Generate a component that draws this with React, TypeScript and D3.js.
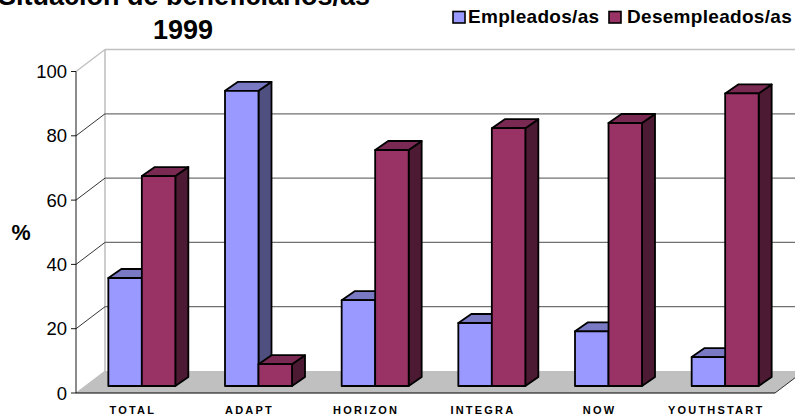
import React from "react";
import * as d3 from "d3";

const categories = ["TOTAL", "ADAPT", "HORIZON", "INTEGRA", "NOW", "YOUTHSTART"];
const empleados = [33.6, 91.8, 26.7, 19.6, 17, 9];
const desempleados = [65.3, 6.8, 73.4, 80.2, 81.8, 91];
const yTicks = [0, 20, 40, 60, 80, 100];
const seriesNames = ["Empleados/as", "Desempleados/as"];
const fronts = ["#9999ff", "#993366"];
const tops = ["#7a7ac4", "#7a2952"];
const sides = ["#4f4f80", "#4d1a33"];

const W = 795, H = 417;
const F = "'Liberation Sans', Arial, sans-serif";
const dx = 29, dy = 22;
const bdx = 13, bdy = 9;
const y = d3.scaleLinear().domain([0, 100]).range([393, 71.5]);
const len = (v: number) => y(0) - y(v);
const x0 = d3.scaleBand<string>().domain(categories).range([83.5, 783.5]).paddingInner(0).paddingOuter(0);
const baseY = 386;
const barW = 33.5;

function Bar({ x, v, s }: { x: number; v: number; s: number }) {
  const t = baseY - len(v);
  const pts = (a: number[][]) => a.map((p) => p.join(",")).join(" ");
  const st = { stroke: "#000", strokeWidth: 1.8, strokeLinejoin: "round" as const };
  return (
    <g>
      <polygon points={pts([[x + barW, t], [x + barW + bdx, t - bdy], [x + barW + bdx, baseY - bdy], [x + barW, baseY]])} fill={sides[s]} {...st} />
      <polygon points={pts([[x, t], [x + bdx, t - bdy], [x + barW + bdx, t - bdy], [x + barW, t]])} fill={tops[s]} {...st} />
      <rect x={x} y={t} width={barW} height={baseY - t} fill={fronts[s]} {...st} />
    </g>
  );
}

export default function App() {
  return (
    <svg width={W} height={H} viewBox={`0 0 ${W} ${H}`} style={{ position: "absolute", left: 0, top: 0, background: "#fff" }} fontFamily={F}>
      <polygon points={`${76},393 ${775},393 ${775 + dx},${393 - dy} ${76 + dx},${393 - dy}`} fill="#c0c0c0" />
      <line x1={76 + dx} x2={76 + dx} y1={71.5 - dy} y2={393 - dy} stroke="#c0c0c0" strokeWidth={1.6} />
      <line x1={76 + dx} x2={W} y1={71.5 - dy} y2={71.5 - dy} stroke="#c0c0c0" strokeWidth={1.6} />
      {yTicks.filter((t) => t > 0 && t < 100).map((t) => (
        <g key={t}>
          <line x1={76 + dx} x2={W} y1={y(t) - dy} y2={y(t) - dy} stroke="#707070" strokeWidth={1.2} />
          <line x1={76} x2={76 + dx} y1={y(t)} y2={y(t) - dy} stroke="#000" strokeWidth={0.8} />
        </g>
      ))}
      <line x1={76} x2={76 + dx} y1={y(100)} y2={y(100) - dy} stroke="#c0c0c0" strokeWidth={1.4} />
      <line x1={76} x2={76 + dx} y1={393} y2={393 - dy} stroke="#c0c0c0" strokeWidth={1} />
      <line x1={76} x2={76} y1={y(100)} y2={393} stroke="#000" strokeWidth={0.9} />
      <line x1={76} x2={775} y1={393} y2={393} stroke="#000" strokeWidth={1} />
      <line x1={775} x2={775 + dx} y1={393} y2={393 - dy} stroke="#000" strokeWidth={0.8} />
      {yTicks.map((t) => (
        <g key={t}>
          <line x1={71} x2={76} y1={y(t)} y2={y(t)} stroke="#000" strokeWidth={0.9} />
          <text x={67} y={y(t) + 6.5} textAnchor="end" fontSize={18.5} fill="#000">{t}</text>
        </g>
      ))}
      {categories.map((c, i) => {
        const cx = x0(c)! + x0.bandwidth() / 2;
        const left = cx - barW;
        return (
          <g key={c}>
            <Bar x={left} v={empleados[i]} s={0} />
            <Bar x={left + barW} v={desempleados[i]} s={1} />
            <text x={cx - 9} y={414} textAnchor="middle" fontSize={11} fontWeight={700} letterSpacing={2.2}>{c}</text>
          </g>
        );
      })}
      <text x={21} y={240} textAnchor="middle" fontSize={21.5} fontWeight={700}>%</text>
      <text x={184} y={4.5} textAnchor="middle" fontSize={27} fontWeight={700}>Situación de beneficiarios/as</text>
      <text x={183} y={39} textAnchor="middle" fontSize={27} fontWeight={700}>1999</text>
      {seriesNames.map((n, i) => {
        const sx = [453, 609][i];
        return (
          <g key={n}>
            <rect x={sx} y={11.5} width={12} height={11.5} fill={fronts[i]} stroke="#000" strokeWidth={1.6} />
            <text x={sx + [15, 18][i]} y={23} fontSize={19} fontWeight={700} letterSpacing={0.3}>{n}</text>
          </g>
        );
      })}
    </svg>
  );
}
